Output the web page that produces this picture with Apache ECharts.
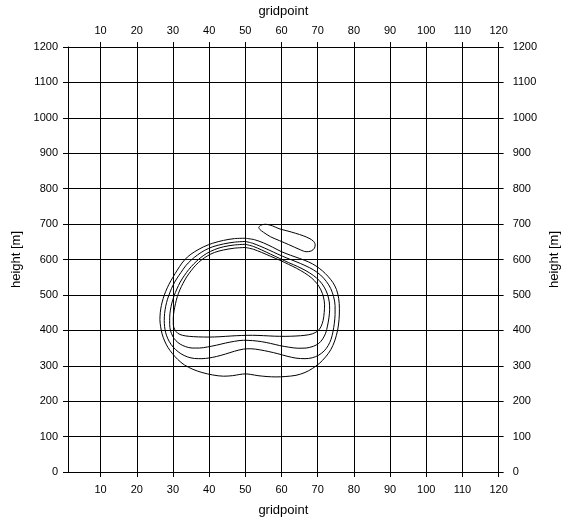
<!DOCTYPE html>
<html><head><meta charset="utf-8">
<script src="https://cdn.jsdelivr.net/npm/echarts@6/dist/echarts.min.js"></script>
<style>html,body{margin:0;padding:0;background:#fff}#c{width:569px;height:522px}</style>
</head><body><div id="c"></div>
<script>
const xTicks = [10,20,30,40,50,60,70,80,90,100,110,120];
const yTicks = [0,100,200,300,400,500,600,700,800,900,1000,1100,1200];
const xTitle = 'gridpoint';
const yTitle = 'height [m]';

// contour lines (gridpoint, height)
const contour1 = [[50,660],[47,659],[44,654],[41,646],[38.5,636],[36,622],[34,607],[32.5,590],[31.2,570],[30,550],[28.9,530],[28,510],[27.3,490],[26.8,470],[26.5,450],[26.4,430],[26.6,410],[27,390],[27.7,370],[28.6,352],[29.8,335],[31.3,318],[33.2,302],[35.5,290],[38,281],[41,274],[44,270.5],[46.5,272],[48.5,275.5],[50,277],[51.5,275.5],[53.5,272],[56,269.5],[58.5,268.5],[61,269.5],[64,273],[66.5,281],[68.5,292],[70.5,307],[72.2,325],[73.6,345],[74.7,370],[75.5,400],[75.9,430],[76,462],[75.8,490],[75.2,515],[74.2,535],[72.8,553],[71.3,568],[69.5,582],[67.5,593],[65,603],[62.5,612],[60,622],[57.5,635],[55,647],[52.5,656],[50,660]];
const contour2 = [[50,651],[47,649],[44,644],[41,636],[38.8,626],[36.8,613],[35,598],[33.5,582],[32.2,563],[31,545],[30,527],[29.2,508],[28.5,488],[28,468],[27.7,448],[27.6,428],[27.7,410],[28,393],[28.6,376],[29.5,360],[30.7,346],[32.2,334],[34,325],[36,320.5],[38,320],[40,322],[42,326],[44.5,333],[47,341],[49.5,347],[51.5,348],[54,345],[56.5,340],[59,334],[61.5,327],[64,321.5],[66.5,320],[68.5,322.5],[70.3,330],[71.8,342],[72.9,357],[73.7,375],[74.2,395],[74.6,420],[74.8,445],[74.8,470],[74.4,495],[73.6,518],[72.4,538],[70.8,556],[68.8,571],[66.5,583],[64,594],[61.5,604],[59,615],[56.5,627],[54,638],[52,646],[50,651]];
const contour3 = [[50,643],[47,641],[44,636],[41.5,628],[39.3,617],[37.5,604],[35.8,588],[34.4,572],[33.1,554],[32,536],[31.1,517],[30.3,497],[29.7,477],[29.3,457],[29.1,437],[29.1,417],[29.3,400],[29.9,384],[30.8,371],[32,361],[33.5,354],[35.3,350],[37.3,350],[39.5,353],[42,358],[44.5,364],[47,369],[49.5,372],[52,371],[54.5,368],[57,363],[59.5,357],[62,352.5],[64.5,349.5],[66.8,350],[68.8,355],[70.3,363],[71.4,376],[72.2,392],[72.7,412],[73.1,435],[73.3,458],[73.2,480],[72.7,502],[71.8,522],[70.5,540],[68.8,555],[66.8,568],[64.5,580],[62,591],[59.5,603],[57,615],[54.5,627],[52.2,637],[50,643]];
const contour4 = [[50,634],[47,632],[44,627],[41.5,620],[39.5,610],[37.8,598],[36.3,584],[35,568],[33.8,551],[32.8,533],[31.9,514],[31.2,495],[30.7,475],[30.3,455],[30.1,435],[30.1,416],[30.5,402],[31.3,392],[32.6,386],[34.5,383],[37,381.5],[40,381],[43,382],[46,384],[49,385.5],[52,386],[55,385],[58,383.5],[61,383],[64,384],[66.5,386],[68.5,390],[70,398],[70.9,410],[71.5,428],[71.8,450],[71.9,472],[71.6,494],[70.9,514],[69.8,532],[68.3,548],[66.4,562],[64.2,575],[62,586],[59.5,598],[57,609],[54.5,620],[52.2,629],[50,634]];
const contour5 = [[53.7,690],[54.2,696.5],[55.5,699.5],[57.5,695],[59.3,687],[61.5,681],[63.9,674],[66,667],[67.6,660],[68.8,652],[69.3,642],[69.1,632],[68.2,624],[66.8,622],[65.3,627],[62,642],[59.5,653],[57,664],[55,677],[54,685],[53.7,690]];

const FONT = 'Liberation Sans, Arial, sans-serif';
const lbl = {color:'#000', fontSize:11, fontFamily:FONT};
const nameStyle = {color:'#000', fontSize:13, fontFamily:FONT};
function xAxisDef(pos, showSplit){
  return {type:'value', position:pos, min:1, max:120,
    name:xTitle, nameLocation:'middle', nameGap:pos==='bottom'?32:29, nameTextStyle:nameStyle,
    axisLine:{show:true, onZero:false, lineStyle:{color:'#000', width:1}},
    axisTick:{show:true, inside:false, length:5, customValues:xTicks, lineStyle:{color:'#000'}},
    axisLabel:{...lbl, margin:pos==='bottom'?12:11, customValues:xTicks},
    splitLine:{show:showSplit, lineStyle:{color:'#000', width:1}}};
}
function yAxisDef(pos, showSplit){
  return {type:'value', position:pos, min:yTicks[0], max:yTicks[yTicks.length-1], interval:100,
    name:yTitle, nameLocation:'middle', nameRotate:90, nameGap:pos==='left'?38:40, nameTextStyle:nameStyle,
    axisLine:{show:true, onZero:false, lineStyle:{color:'#000', width:1}},
    axisTick:{show:true, inside:false, length:5, lineStyle:{color:'#000'}},
    axisLabel:{...lbl, margin:pos==='left'?10:14, formatter:v=>String(v)},
    splitLine:{show:showSplit, lineStyle:{color:'#000', width:1}}};
}
const series = [contour1,contour2,contour3,contour4,contour5].map(d=>({
  type:'line', data:d, showSymbol:false, symbol:'none', smooth:0.3,
  lineStyle:{color:'#000', width:1}, silent:true, animation:false, clip:true
}));
const chart = echarts.init(document.getElementById('c'), null, {renderer:'canvas'});
chart.setOption({
  animation:false,
  backgroundColor:'#fff',
  grid:{left:68, right:68, top:47, bottom:47, containLabel:false},
  xAxis:[xAxisDef('bottom', true), xAxisDef('top', false)],
  yAxis:[yAxisDef('left', true), yAxisDef('right', false)],
  series:series
});
</script></body></html>
